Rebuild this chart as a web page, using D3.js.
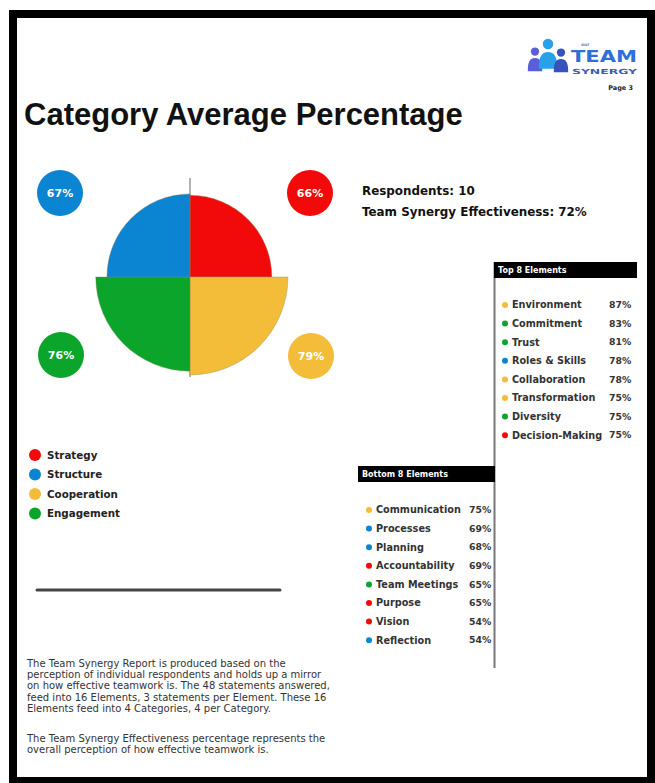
<!DOCTYPE html>
<html>
<head>
<meta charset="utf-8">
<script src="https://cdn.jsdelivr.net/npm/d3@7"></script>
<style>
  body { margin: 0; background: #fff; }
  svg { display: block; }
</style>
</head>
<body>
<div id="chart"></div>
<script>
// category data (polar area)
const categories = ["Strategy", "Cooperation", "Engagement", "Structure"];
const categoryValues = [66, 79, 76, 67];
const categoryColors = ["#f20a0a", "#f3bd3a", "#0aa52a", "#0b84d1"];
const legendOrder = ["Strategy", "Structure", "Cooperation", "Engagement"];

// top / bottom elements
const topNames = ["Environment", "Commitment", "Trust", "Roles & Skills", "Collaboration", "Transformation", "Diversity", "Decision-Making"];
const topValues = [87, 83, 81, 78, 78, 75, 75, 75];
const topCats = ["Cooperation", "Engagement", "Engagement", "Structure", "Cooperation", "Cooperation", "Engagement", "Strategy"];

const bottomNames = ["Communication", "Processes", "Planning", "Accountability", "Team Meetings", "Purpose", "Vision", "Reflection"];
const bottomValues = [75, 69, 68, 69, 65, 65, 54, 54];
const bottomCats = ["Cooperation", "Structure", "Structure", "Strategy", "Engagement", "Strategy", "Strategy", "Structure"];

const respondents = 10;
const effectiveness = 72;

const paragraph1 = [
  "The Team Synergy Report is produced based on the",
  "perception of individual respondents and holds up a mirror",
  "on how effective teamwork is. The 48 statements answered,",
  "feed into 16 Elements, 3 statements per Element. These 16",
  "Elements feed into 4 Categories, 4 per Category."
];
const paragraph2 = [
  "The Team Synergy Effectiveness percentage represents the",
  "overall perception of how effective teamwork is."
];

const width = 655, height = 783;
const color = d3.scaleOrdinal().domain(categories).range(categoryColors);
const sans = "'DejaVu Sans', Verdana, sans-serif";

const svg = d3.select("#chart").append("svg")
    .attr("width", width)
    .attr("height", height);

svg.append("rect").attr("width", width).attr("height", height).attr("fill", "#fff");

// page frame
svg.append("rect")
    .attr("x", 13).attr("y", 14)
    .attr("width", 638).attr("height", 767)
    .attr("fill", "none")
    .attr("stroke", "#000")
    .attr("stroke-width", 8);

// title
svg.append("text")
    .attr("x", 24).attr("y", 125)
    .style("font-family", "'Liberation Sans', Arial, sans-serif")
    .style("font-weight", "bold")
    .style("font-size", "31px")
    .attr("fill", "#111")
    .text("Category Average Percentage");

// logo
const logo = svg.append("g");
[[535, 58, 5.5, "#5a5ed8"], [548, 52, 7, "#27a1e8"], [561, 59, 5.5, "#3552bf"]].forEach(([x, y, r, c]) => {
    logo.append("circle").attr("cx", x).attr("cy", y - r - 1).attr("r", r * 0.75).attr("fill", c);
    logo.append("path")
        .attr("d", `M${x - r * 1.3},${y + r * 2.4} Q${x - r * 1.4},${y} ${x},${y} Q${x + r * 1.4},${y} ${x + r * 1.3},${y + r * 2.4} Z`)
        .attr("fill", c);
});
logo.append("text").attr("x", 581).attr("y", 46)
    .style("font-family", sans).style("font-size", "4.5px").style("font-weight", "bold")
    .attr("fill", "#6a7fc0").text("our");
logo.append("text").attr("x", 571).attr("y", 62)
    .style("font-family", sans).style("font-size", "15px").style("font-weight", "bold")
    .attr("textLength", 66).attr("lengthAdjust", "spacingAndGlyphs")
    .attr("fill", "#2f6fd8").text("TEAM");
logo.append("text").attr("x", 572).attr("y", 73.5)
    .style("font-family", sans).style("font-size", "7px").style("font-weight", "bold")
    .attr("textLength", 65).attr("lengthAdjust", "spacingAndGlyphs")
    .attr("fill", "#3c5cb8").text("SYNERGY");
svg.append("text").attr("x", 633).attr("y", 90)
    .attr("text-anchor", "end")
    .style("font-family", sans).style("font-size", "6.5px").style("font-weight", "bold")
    .attr("fill", "#222").text("Page 3");

// polar area chart
const cx = 190, cy = 277;
const r = d3.scaleLinear().domain([0, 100]).range([0, 124]);
const angle = d3.scaleBand().domain(categories).range([0, 2 * Math.PI]);

const chart = svg.append("g").attr("transform", `translate(${cx},${cy})`);

chart.append("line")
    .attr("x1", 0).attr("x2", 0)
    .attr("y1", -99).attr("y2", 100)
    .attr("stroke", "#666").attr("stroke-width", 1);

const arc = d3.arc()
    .innerRadius(0)
    .outerRadius(d => r(d.value))
    .startAngle(d => angle(d.name))
    .endAngle(d => angle(d.name) + angle.bandwidth());

const slices = categories.map((name, i) => ({ name, value: categoryValues[i] }));

chart.selectAll("path.slice")
    .data(slices)
    .enter().append("path")
    .attr("class", "slice")
    .attr("d", arc)
    .attr("fill", d => color(d.name))
    .attr("stroke", "#8a8a5a")
    .attr("stroke-width", 0.4);

// value bubbles at corners
const bubblePos = { Strategy: [310, 193], Structure: [60, 193], Engagement: [61, 355], Cooperation: [311, 356] };
const bubbles = svg.append("g").selectAll("g")
    .data(slices)
    .enter().append("g")
    .attr("transform", d => `translate(${bubblePos[d.name][0]},${bubblePos[d.name][1]})`);
bubbles.append("circle").attr("r", 23).attr("fill", d => color(d.name));
bubbles.append("text")
    .attr("text-anchor", "middle").attr("dy", "0.35em")
    .style("font-family", sans).style("font-size", "11px").style("font-weight", "bold")
    .attr("fill", "#fff")
    .text(d => d.value + "%");

// respondents info
svg.append("text").attr("x", 362).attr("y", 195)
    .style("font-family", sans).style("font-size", "11.9px").style("font-weight", "bold")
    .attr("fill", "#111").text("Respondents: " + respondents);
svg.append("text").attr("x", 362).attr("y", 216)
    .style("font-family", sans).style("font-size", "11.9px").style("font-weight", "bold")
    .attr("fill", "#111").text("Team Synergy Effectiveness: " + effectiveness + "%");

// legend
const legend = svg.append("g").selectAll("g")
    .data(legendOrder)
    .enter().append("g")
    .attr("transform", (d, i) => `translate(35,${455 + i * 19.5})`);
legend.append("circle").attr("r", 6).attr("fill", d => color(d));
legend.append("text").attr("x", 12).attr("dy", "0.35em")
    .style("font-family", sans).style("font-size", "10.3px").style("font-weight", "bold")
    .attr("fill", "#222").text(d => d);

// element lists
svg.append("line")
    .attr("x1", 494.5).attr("x2", 494.5)
    .attr("y1", 262).attr("y2", 668)
    .attr("stroke", "#777").attr("stroke-width", 2);

function elementList(x0, x1, headerY, title, names, values, cats, firstY, pctX) {
    const g = svg.append("g");
    g.append("rect").attr("x", x0).attr("y", headerY)
        .attr("width", x1 - x0).attr("height", 16).attr("fill", "#000");
    g.append("text").attr("x", x0 + 4).attr("y", headerY + 11)
        .style("font-family", sans).style("font-size", "8px").style("font-weight", "bold")
        .attr("fill", "#fff").text(title);
    const y = d3.scalePoint().domain(names).range([firstY, firstY + 18.6 * 7]);
    const rows = g.selectAll("g.row")
        .data(names.map((n, i) => ({ name: n, value: values[i], cat: cats[i] })))
        .enter().append("g").attr("class", "row")
        .attr("transform", d => `translate(0,${y(d.name)})`);
    rows.append("circle").attr("cx", x0 + 11).attr("r", 3).attr("fill", d => color(d.cat));
    rows.append("text").attr("x", x0 + 18).attr("dy", "0.35em")
        .style("font-family", sans).style("font-size", "9.7px").style("font-weight", "bold")
        .attr("fill", "#333").text(d => d.name);
    rows.append("text").attr("x", pctX).attr("dy", "0.35em")
        .style("font-family", sans).style("font-size", "9.3px").style("font-weight", "bold")
        .attr("fill", "#333").text(d => d.value + "%");
}

elementList(494, 637, 262, "Top 8 Elements", topNames, topValues, topCats, 305, 609);
elementList(358, 495, 466, "Bottom 8 Elements", bottomNames, bottomValues, bottomCats, 510, 469);

// separator
svg.append("line")
    .attr("x1", 37).attr("x2", 280)
    .attr("y1", 590).attr("y2", 590)
    .attr("stroke", "#444").attr("stroke-width", 3)
    .attr("stroke-linecap", "round");

// explanatory text
const para = svg.append("g")
    .style("font-family", sans).style("font-size", "10px")
    .attr("fill", "#333");
paragraph1.forEach((t, i) => para.append("text").attr("x", 27).attr("y", 667 + i * 11.2).text(t));
paragraph2.forEach((t, i) => para.append("text").attr("x", 27).attr("y", 742 + i * 11.2).text(t));
</script>
</body>
</html>
